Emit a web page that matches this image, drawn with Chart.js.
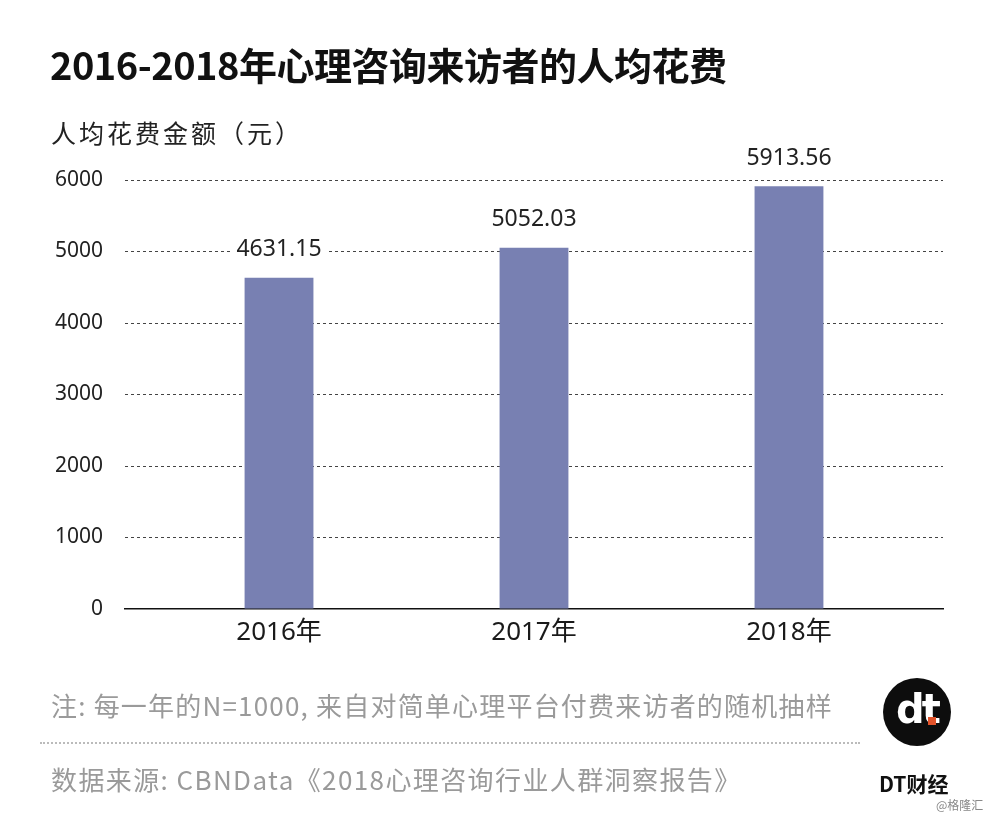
<!DOCTYPE html>
<html><head><meta charset="utf-8">
<script src="https://cdn.jsdelivr.net/npm/chart.js@4/dist/chart.umd.min.js"></script>
<style>
html,body{margin:0;padding:0;background:#fff;}
#wrap{position:relative;width:1000px;height:815px;overflow:hidden;font-family:"Noto Sans CJK SC","Noto Sans",sans-serif;}
#c{position:absolute;left:0;top:0;}
.t{position:absolute;white-space:nowrap;}
#title{left:50px;top:36px;font-size:38px;font-weight:bold;color:#111;letter-spacing:-0.5px;}
#ytitle{left:51px;top:114px;font-size:25px;color:#222;letter-spacing:3px;}
#note{left:51px;top:686px;font-size:26px;color:#9a9a9a;letter-spacing:1.2px;}
#src{left:51px;top:760px;font-size:26px;color:#9a9a9a;letter-spacing:1.4px;}
#sep{position:absolute;left:40px;top:742px;width:820px;border-top:2px dotted #bbb;}
#logo{position:absolute;left:883px;top:678px;width:68px;height:68px;border-radius:50%;background:#0d0d0d;}
#logotxt{position:absolute;left:0;top:9px;width:68px;text-align:center;color:#fff;font:bold 40px "DejaVu Sans",sans-serif;letter-spacing:-3px;line-height:44px;}
#logosq{position:absolute;left:45px;top:39px;width:8px;height:8px;background:#e2532a;}
#dt{left:879px;top:768px;font-size:21px;font-weight:bold;color:#111;}
#glh{left:936px;top:796px;font-size:12px;color:#888;}
</style></head>
<body><div id="wrap">
<canvas id="c" width="1000" height="815"></canvas>
<div class="t" id="title">2016-2018年心理咨询来访者的人均花费</div>
<div class="t" id="ytitle">人均花费金额（元）</div>
<div class="t" id="note">注: 每一年的N=1000, 来自对简单心理平台付费来访者的随机抽样</div>
<div id="sep"></div>
<div class="t" id="src">数据来源: CBNData《2018心理咨询行业人群洞察报告》</div>
<div id="logo"><div id="logotxt">dt</div><div id="logosq"></div></div>
<div class="t" id="dt">DT财经</div>
<div class="t" id="glh">@格隆汇</div>
</div>
<script>
const categories = ["2016年", "2017年", "2018年"];
const values = [4631.15, 5052.03, 5913.56];
const yTicks = [0, 1000, 2000, 3000, 4000, 5000, 6000];

const labelPlugin = {
  id: 'valueLabels',
  afterDatasetsDraw(chart) {
    const ctx = chart.ctx;
    const meta = chart.getDatasetMeta(0);
    ctx.save();
    ctx.font = '23px "Noto Sans", sans-serif';
    ctx.textAlign = 'center';
    ctx.textBaseline = 'middle';
    meta.data.forEach((el, i) => {
      const txt = values[i].toFixed(2);
      const w = ctx.measureText(txt).width;
      const cy = el.y - 28;
      ctx.fillStyle = '#fff';
      ctx.fillRect(el.x - w / 2 - 6, cy - 13, w + 12, 26);
      ctx.fillStyle = '#222';
      ctx.fillText(txt, el.x, cy);
    });
    ctx.restore();
  }
};

new Chart(document.getElementById('c'), {
  type: 'bar',
  data: {
    datasets: [{
      data: values.map((v, i) => ({x: i, y: v})),
      backgroundColor: '#7880b2',
      borderWidth: 0,
      barPercentage: 0.9,
      categoryPercentage: 0.3
    }]
  },
  options: {
    responsive: false,
    animation: false,
    devicePixelRatio: 1,
    layout: {padding: {top: 180, right: 57, left: 0, bottom: 0}},
    plugins: {legend: {display: false}, tooltip: {enabled: false}},
    scales: {
      x: {
        type: 'linear',
        offset: false,
        min: -0.604, max: 2.604,
        afterBuildTicks(s) { s.ticks = categories.map((c, i) => ({value: i})); },
        afterFit(s) { s.height = 206; },
        grid: {display: false, drawTicks: false, offset: false},
        border: {display: true, color: '#111', width: 1.5},
        ticks: {
          padding: 8,
          color: '#1a1a1a',
          font: {size: 26, family: '"Noto Sans", "Noto Sans CJK SC", sans-serif'},
          callback: (v) => categories[v]
        }
      },
      y: {
        min: 0, max: 6000,
        afterBuildTicks(s) { s.ticks = yTicks.map(v => ({value: v})); },
        afterFit(s) { s.width = 125; },
        grid: {
          drawTicks: false,
          color: (c) => c.tick && c.tick.value === 0 ? 'rgba(0,0,0,0)' : '#444',
          lineWidth: 1
        },
        border: {display: false, dash: [3, 3]},
        ticks: {
          padding: 22,
          color: '#222',
          font: {size: 21, family: '"Noto Sans", sans-serif'},
          callback: (v) => String(v)
        }
      }
    }
  },
  plugins: [labelPlugin]
});
</script>
</body></html>
